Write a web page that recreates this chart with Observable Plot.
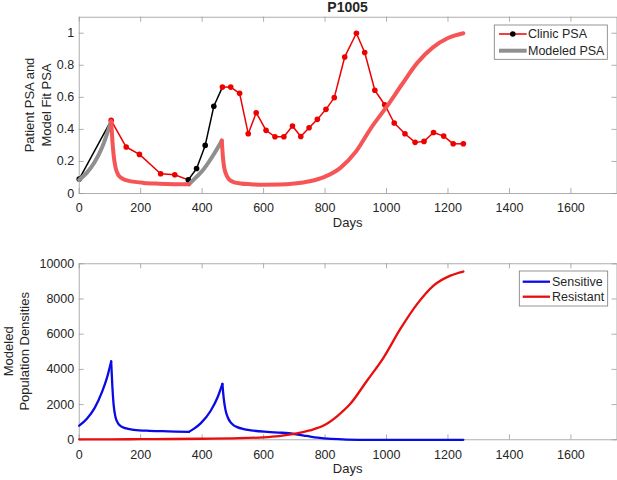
<!DOCTYPE html>
<html><head><meta charset="utf-8">
<script src="https://cdn.jsdelivr.net/npm/d3@7"></script>
<script src="https://cdn.jsdelivr.net/npm/@observablehq/plot@0.6"></script>
<style>
body{margin:0;background:#fff;}
#wrap{position:relative;width:617px;height:480px;}
#top,#bot{position:absolute;left:0;}
#top{top:0px}
#bot{top:240px}
svg{display:block}
</style></head><body>
<div id="wrap"><div id="top"></div><div id="bot"></div></div>
<script>
// ---------- data ----------
const titleText = "P1005";
const xTicks = [0, 200, 400, 600, 800, 1000, 1200, 1400, 1600];
const psaTicks = [0, 0.2, 0.4, 0.6, 0.8, 1];
const popTicks = [0, 2000, 4000, 6000, 8000, 10000];

const clinicDays = [0, 104, 153, 196, 265, 311, 355, 382, 410, 438, 466, 493, 522, 550, 576, 608, 637, 666, 694, 721, 748, 775, 803, 830, 864, 902, 929, 962, 994, 1025, 1060, 1093, 1122, 1153, 1186, 1217, 1250];
const clinicPSA  = [0.09, 0.456, 0.29, 0.244, 0.123, 0.117, 0.085, 0.156, 0.30, 0.544, 0.664, 0.664, 0.625, 0.373, 0.504, 0.394, 0.354, 0.354, 0.421, 0.356, 0.41, 0.4625, 0.525, 0.598, 0.852, 1.0, 0.88, 0.644, 0.554, 0.44, 0.373, 0.319, 0.325, 0.381, 0.358, 0.31, 0.31];
const clinicPhase = ["off","on","on","on","on","on","off","off","off","off","on","on","on","on","on","on","on","on","on","on","on","on","on","on","on","on","on","on","on","on","on","on","on","on","on","on","on"];

const modelDays = [0, 25, 50, 75, 104, 108, 112, 118, 126, 135, 150, 175, 210, 260, 310, 357, 380, 405, 438, 464, 468, 472, 478, 485, 493, 505, 525, 557, 600, 650, 700, 750, 800, 850, 900, 950, 1000, 1050, 1100, 1150, 1200, 1250];
const modelPSA  = [0.085, 0.13, 0.195, 0.29, 0.45, 0.33, 0.24, 0.165, 0.12, 0.1, 0.085, 0.074, 0.066, 0.061, 0.058, 0.057, 0.1, 0.152, 0.245, 0.33, 0.22, 0.16, 0.12, 0.095, 0.08, 0.07, 0.063, 0.058, 0.055, 0.056, 0.062, 0.076, 0.105, 0.16, 0.26, 0.41, 0.54, 0.68, 0.815, 0.91, 0.97, 1.0];
const modelBreaks = [104, 357, 464];
const modelPhases = ["off", "on", "off", "on"];

const sensDays = [0, 25, 50, 75, 90, 104, 108, 112, 118, 126, 135, 150, 178, 230, 290, 357, 375, 396, 428, 450, 466, 470, 476, 484, 492, 503, 514, 535, 558, 612, 660, 700, 740, 776, 820, 870, 950, 1250];
const sensVals = [800, 1200, 1800, 2750, 3500, 4450, 3000, 2000, 1300, 950, 780, 660, 570, 510, 480, 450, 650, 950, 1650, 2400, 3180, 2400, 1700, 1250, 1000, 820, 720, 610, 540, 450, 400, 330, 220, 120, 50, 15, 0, 0];
const sensBreaks = [104, 357, 466];

const resDays = [0, 100, 200, 300, 400, 500, 600, 650, 700, 750, 800, 840, 880, 937, 991, 1045, 1100, 1153, 1208, 1250];
const resVals = [20, 25, 35, 45, 60, 85, 140, 210, 330, 530, 850, 1350, 2000, 3370, 4690, 6300, 7725, 8765, 9330, 9560];

const topLegend = ["Clinic PSA", "Modeled PSA"];
const botLegend = ["Sensitive", "Resistant"];
const topYLabel = ["Patient PSA and", "Model Fit PSA"];
const botYLabel = ["Modeled", "Population Densities"];
const xLabel = "Days";

// ---------- styles ----------
const FONT = '"Liberation Sans", Arial, Helvetica, sans-serif';
const AX = "#9a9a9a";
const TXT = "#262626";
const phaseColorClinic = {off: "#000000", on: "#ee0000"};
const phaseColorModel = {off: "#8f8f8f", on: "#f55555"};
const SENS = "#0a0ae6";
const RES = "#e80e0e";
const W = 617, H = 240, ML = 78.7, MR = 0.5;

function splitSegments(days, vals, breaks) {
  const rows = [];
  days.forEach((d, i) => {
    let seg = 0;
    while (seg < breaks.length && d > breaks[seg]) seg++;
    rows.push({x: d, y: vals[i], seg});
    if (seg < breaks.length && d === breaks[seg]) rows.push({x: d, y: vals[i], seg: seg + 1});
  });
  return rows;
}

function axisMarks(ih, iw, yTicks) {
  return [
    Plot.ruleX(xTicks, {x: d => d, insetTop: ih - 5, stroke: AX, strokeWidth: 0.8}),
    Plot.ruleX(xTicks, {x: d => d, insetBottom: ih - 5, stroke: AX, strokeWidth: 0.8}),
    Plot.ruleY(yTicks, {y: d => d, insetRight: iw - 5, stroke: AX, strokeWidth: 0.8}),
    Plot.ruleY(yTicks, {y: d => d, insetLeft: iw - 5, stroke: AX, strokeWidth: 0.8}),
    Plot.frame({stroke: AX, strokeWidth: 0.8})
  ];
}

function makePlot({yDomain, yTicks, marginTop, marginBottom, marks}) {
  const iw = W - ML - MR, ih = H - marginTop - marginBottom;
  return Plot.plot({
    width: W, height: H,
    marginLeft: ML, marginRight: MR, marginTop, marginBottom,
    style: {fontFamily: FONT, fontSize: "12.5px", color: TXT, background: "white", overflow: "visible"},
    x: {domain: [0, 1750], ticks: xTicks, tickSize: 0, tickPadding: 10, tickFormat: d => String(d), label: null},
    y: {domain: yDomain, ticks: yTicks, tickSize: 0, tickPadding: 5, tickFormat: d => String(d), label: null},
    marks: [...axisMarks(ih, iw, yTicks), ...marks]
  });
}

// ---------- top panel ----------
const clinicPts = clinicDays.map((d, i) => ({x: d, y: clinicPSA[i], phase: clinicPhase[i]}));
const clinicSegs = clinicPts.slice(0, -1).map((p, i) => ({x1: p.x, y1: p.y, x2: clinicPts[i + 1].x, y2: clinicPts[i + 1].y, phase: p.phase}));
const modelRows = splitSegments(modelDays, modelPSA, modelBreaks).map(r => ({...r, phase: modelPhases[r.seg]}));

const topSvg = makePlot({
  yDomain: [0, 1.1], yTicks: psaTicks, marginTop: 16.7, marginBottom: 47,
  marks: [
    ...["off", "on"].map(ph => Plot.link(clinicSegs.filter(s => s.phase === ph), {x1: "x1", y1: "y1", x2: "x2", y2: "y2", stroke: phaseColorClinic[ph], strokeWidth: 1.5})),
    ...["off", "on"].map(ph => Plot.dot(clinicPts.filter(p => p.phase === ph), {x: "x", y: "y", r: 2.8, fill: phaseColorClinic[ph], stroke: "none"})),
    ...["off", "on"].map(ph => Plot.line(modelRows.filter(r => r.phase === ph), {x: "x", y: "y", z: "seg", stroke: phaseColorModel[ph], strokeWidth: 4, curve: "monotone-x", strokeLinejoin: "round"}))
  ]
});
document.getElementById("top").appendChild(topSvg);

// ---------- bottom panel ----------
const sensRows = splitSegments(sensDays, sensVals, sensBreaks);
const resRows = resDays.map((d, i) => ({x: d, y: resVals[i]}));
const botSvg = makePlot({
  yDomain: [0, 10000], yTicks: popTicks, marginTop: 23.3, marginBottom: 40.7,
  marks: [
    Plot.line(sensRows, {x: "x", y: "y", z: "seg", stroke: SENS, strokeWidth: 2.3, curve: "monotone-x", strokeLinejoin: "round"}),
    Plot.line(resRows, {x: "x", y: "y", stroke: RES, strokeWidth: 2.3, curve: "monotone-x"})
  ]
});
document.getElementById("bot").appendChild(botSvg);

// ---------- annotations ----------
function addText(svg, txt, x, y, opts = {}) {
  const t = d3.select(svg).append("text")
    .attr("x", x).attr("y", y)
    .attr("fill", TXT)
    .attr("font-family", FONT)
    .attr("font-size", opts.size || 13)
    .attr("font-weight", opts.weight || "normal")
    .attr("text-anchor", opts.anchor || "middle")
    .text(txt);
  if (opts.rotate) t.attr("transform", `rotate(-90,${x},${y})`);
  return t;
}
const cx = ML + (W - ML - MR) / 2;
addText(topSvg, titleText, cx, 12, {size: 14, weight: "bold"});
addText(topSvg, xLabel, cx, 226.7, {size: 13});
addText(topSvg, topYLabel[0], 34, 105, {size: 13, rotate: true});
addText(topSvg, topYLabel[1], 50.7, 105, {size: 13, rotate: true});
addText(botSvg, xLabel, cx, 233, {size: 13});
addText(botSvg, botYLabel[0], 12.7, 111.3, {size: 13, rotate: true});
addText(botSvg, botYLabel[1], 29.2, 111.3, {size: 13, rotate: true});

// legends
{
  const g = d3.select(topSvg).append("g");
  g.append("rect").attr("x", 494.3).attr("y", 25).attr("width", 113).attr("height", 34.3).attr("fill", "white").attr("stroke", "#7a7a7a").attr("stroke-width", 0.8);
  g.append("line").attr("x1", 499).attr("x2", 526.7).attr("y1", 34).attr("y2", 34).attr("stroke", phaseColorClinic.on).attr("stroke-width", 1.5);
  g.append("circle").attr("cx", 512.8).attr("cy", 34).attr("r", 2.8).attr("fill", phaseColorClinic.off);
  g.append("line").attr("x1", 499).attr("x2", 526.7).attr("y1", 50.7).attr("y2", 50.7).attr("stroke", phaseColorModel.off).attr("stroke-width", 4);
  addText(topSvg, topLegend[0], 528, 38.4, {size: 12.5, anchor: "start"});
  addText(topSvg, topLegend[1], 528, 55.1, {size: 12.5, anchor: "start"});
}
{
  const g = d3.select(botSvg).append("g");
  g.append("rect").attr("x", 519.3).attr("y", 31).attr("width", 88.4).attr("height", 35).attr("fill", "white").attr("stroke", "#7a7a7a").attr("stroke-width", 0.8);
  g.append("line").attr("x1", 522.7).attr("x2", 550).attr("y1", 41.7).attr("y2", 41.7).attr("stroke", SENS).attr("stroke-width", 2.3);
  g.append("line").attr("x1", 522.7).attr("x2", 550).attr("y1", 56.7).attr("y2", 56.7).attr("stroke", RES).attr("stroke-width", 2.3);
  addText(botSvg, botLegend[0], 552, 46.1, {size: 12.5, anchor: "start"});
  addText(botSvg, botLegend[1], 552, 61.1, {size: 12.5, anchor: "start"});
}
</script>
</body></html>
